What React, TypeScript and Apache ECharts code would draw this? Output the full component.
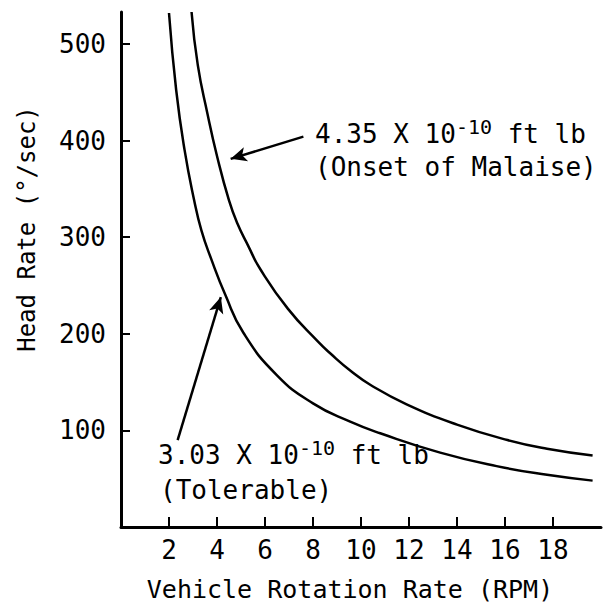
import React, { useEffect, useRef } from "react";
import * as echarts from "echarts";

// Vehicle rotation rate (RPM) and head rate (deg/sec)
const tolerableRpm = [2.0, 2.3, 2.65, 3.05, 3.35, 3.75, 4.35, 5.1, 6.5, 8.0, 9.55, 10.8, 13.3, 15.65, 17.75, 19.65];
const tolerableHead = [532, 452, 390, 338, 307, 278, 240, 201, 157, 128, 109, 97, 77, 63, 54, 48];

const malaiseRpm = [2.94, 3.2, 3.6, 4.0, 4.5, 4.85, 5.3, 5.8, 6.95, 8.2, 8.75, 9.55, 10.4, 11.9, 14.0, 16.1, 17.75, 19.65];
const malaiseHead = [533, 478, 428, 384, 338, 314, 291, 267, 226, 192, 179, 162, 147, 127, 106, 90, 81, 74];

const xTickValues = [2, 4, 6, 8, 10, 12, 14, 16, 18];
const yTickValues = [100, 200, 300, 400, 500];

// arrow annotations: [fromX, fromY, toX, toY] in data units
const malaiseArrow = [7.6, 404, 4.57, 381];
const tolerableArrow = [2.36, 90, 4.16, 238];

const FONT = "DejaVu Sans Mono";

export default function App() {
  const ref = useRef<HTMLDivElement>(null);
  useEffect(() => {
    if (!ref.current) return;
    const chart = echarts.init(ref.current, null, { renderer: "svg" });
    const pair = (xs: number[], ys: number[]) => xs.map((x, i) => [x, ys[i]]);
    const arrowLine = (a: number[]) => [
      { coord: [a[0], a[1]], symbol: "none" },
      { coord: [a[2], a[3]], symbol: "arrow", symbolSize: [11, 16] },
    ];
    const sup = { fontSize: 20, fontFamily: FONT, fill: "#000", padding: [0, 0, 14, 0] };
    chart.setOption({
      animation: false,
      backgroundColor: "#fff",
      grid: { left: 121, right: 2, top: 12, bottom: 76 },
      xAxis: {
        type: "value",
        min: 0,
        max: 20,
        interval: 2,
        splitLine: { show: false },
        axisLine: { lineStyle: { color: "#000", width: 3 } },
        axisTick: { inside: true, length: 10, customValues: xTickValues, lineStyle: { color: "#000", width: 2 } },
        axisLabel: {
          customValues: xTickValues,
          color: "#000",
          fontFamily: FONT,
          fontSize: 26,
          margin: 10,
        },
      },
      yAxis: {
        type: "value",
        min: 0,
        max: 533,
        interval: 100,
        splitLine: { show: false },
        axisLine: { show: true, lineStyle: { color: "#000", width: 3 } },
        axisTick: { show: true, inside: true, length: 9, customValues: yTickValues, lineStyle: { color: "#000", width: 2 } },
        axisLabel: {
          customValues: yTickValues,
          color: "#000",
          fontFamily: FONT,
          fontSize: 26,
          margin: 15,
        },
      },
      series: [
        {
          name: "3.03 X 10^-10 ft lb (Tolerable)",
          type: "line",
          data: pair(tolerableRpm, tolerableHead),
          smooth: 0.5,
          showSymbol: false,
          lineStyle: { color: "#000", width: 2.5 },
          markLine: {
            silent: true,
            label: { show: false },
            lineStyle: { color: "#000", width: 2.5, type: "solid" },
            data: [arrowLine(tolerableArrow)],
          },
        },
        {
          name: "4.35 X 10^-10 ft lb (Onset of Malaise)",
          type: "line",
          data: pair(malaiseRpm, malaiseHead),
          smooth: 0.5,
          showSymbol: false,
          lineStyle: { color: "#000", width: 2.5 },
          markLine: {
            silent: true,
            label: { show: false },
            lineStyle: { color: "#000", width: 2.5, type: "solid" },
            data: [arrowLine(malaiseArrow)],
          },
        },
      ],
      graphic: [
        {
          type: "text",
          x: 350,
          y: 589,
          style: {
            text: "Vehicle Rotation Rate (RPM)",
            fill: "#000",
            font: `25px "${FONT}"`,
            textAlign: "center",
            textVerticalAlign: "middle",
          },
        },
        {
          type: "text",
          x: 27,
          y: 229,
          rotation: Math.PI / 2,
          style: {
            text: "Head Rate (°/sec)",
            fill: "#000",
            font: `24px "${FONT}"`,
            textAlign: "center",
            textVerticalAlign: "middle",
          },
        },
        {
          type: "text",
          x: 315,
          y: 134,
          style: {
            text: "4.35 X 10{sup|-10} ft lb",
            rich: { sup },
            fill: "#000",
            fontFamily: FONT,
            fontSize: 26,
            textAlign: "left",
            textVerticalAlign: "middle",
          },
        },
        {
          type: "text",
          x: 315,
          y: 167,
          style: {
            text: "(Onset of Malaise)",
            fill: "#000",
            font: `26px "${FONT}"`,
            textAlign: "left",
            textVerticalAlign: "middle",
          },
        },
        {
          type: "text",
          x: 158,
          y: 455,
          style: {
            text: "3.03 X 10{sup|-10} ft lb",
            rich: { sup },
            fill: "#000",
            fontFamily: FONT,
            fontSize: 26,
            textAlign: "left",
            textVerticalAlign: "middle",
          },
        },
        {
          type: "text",
          x: 160,
          y: 490,
          style: {
            text: "(Tolerable)",
            fill: "#000",
            font: `26px "${FONT}"`,
            textAlign: "left",
            textVerticalAlign: "middle",
          },
        },
      ],
    });
    return () => chart.dispose();
  }, []);
  return <div ref={ref} style={{ position: "fixed", left: 0, top: 0, width: 603, height: 603 }} />;
}
